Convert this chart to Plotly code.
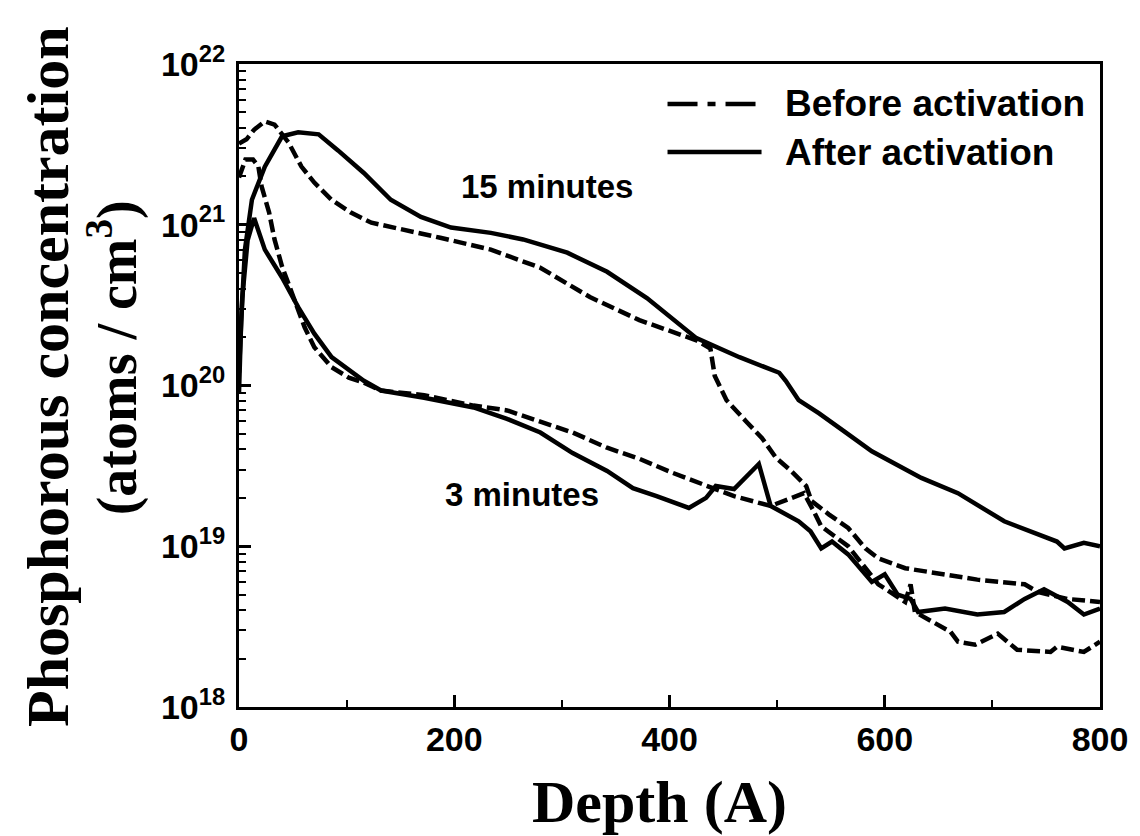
import plotly.graph_objects as go

# ---------------- data (depth in Angstrom, concentration in atoms/cm^3) ----------------
depth_after_15 = [0, 2, 5.5, 12, 24, 40, 55, 74, 92, 116, 141, 169, 197, 234, 264, 305, 342, 379,
                  425, 465, 502, 508, 520, 539, 562, 588, 634, 668, 711, 760, 767, 785, 800]
conc_after_15 = [9.0e19, 2.5e20, 7.0e20, 1.43e21, 2.3e21, 3.55e21, 3.76e21, 3.65e21, 2.9e21, 2.1e21,
                 1.43e21, 1.12e21, 9.6e20, 8.9e20, 8.1e20, 6.7e20, 5.1e20, 3.5e20,
                 1.97e20, 1.5e20, 1.2e20, 1.07e20, 8.1e19, 6.7e19, 5.2e19, 3.9e19, 2.66e19, 2.14e19,
                 1.43e19, 1.07e19, 9.7e18, 1.05e19, 1.0e19]

depth_before_15 = [0, 7, 14, 24, 33, 46, 58, 70, 86, 104, 123, 151, 187, 234, 280, 326, 372, 425,
                   438, 442, 453, 471, 486, 499, 513, 527, 532, 548, 566, 582, 594, 619, 652, 686,
                   730, 742, 770, 800]
conc_before_15 = [3.2e21, 3.4e21, 3.9e21, 4.4e21, 4.2e21, 3.25e21, 2.3e21, 1.83e21, 1.43e21, 1.19e21,
                  1.03e21, 9.4e20, 8.3e20, 7.0e20, 5.4e20, 3.55e20, 2.55e20, 1.91e20,
                  1.7e20, 1.15e20, 8.1e19, 6.0e19, 4.7e19, 3.55e19, 2.94e19, 2.37e19, 1.91e19, 1.58e19,
                  1.3e19, 9.7e18, 8.4e18, 7.3e18, 6.7e18, 6.2e18,
                  5.8e18, 5.2e18, 4.7e18, 4.5e18]

depth_after_3 = [0, 3, 8, 14, 24, 40, 55, 70, 86, 102, 116, 132, 172, 218, 249, 280, 310, 342, 366,
                 388, 418, 434, 443, 460, 483, 494, 506, 520, 531, 541, 551, 566, 588, 600, 612,
                 624, 631, 656, 686, 711, 730, 748, 770, 785, 800]
conc_after_3 = [1.2e20, 3.5e20, 8.0e20, 1.1e21, 7.0e20, 4.7e20, 3.07e20, 2.1e20, 1.5e20, 1.24e20,
                1.07e20, 9.3e19, 8.4e19, 7.3e19, 6.2e19, 5.1e19, 3.8e19, 2.94e19, 2.3e19,
                2.05e19, 1.73e19, 2.0e19, 2.37e19, 2.27e19, 3.25e19, 1.78e19, 1.6e19, 1.43e19, 1.24e19,
                9.7e18, 1.07e19, 8.9e18, 6.0e18, 6.7e18, 5.0e18,
                4.7e18, 3.9e18, 4.1e18, 3.76e18, 3.9e18, 4.7e18, 5.4e18, 4.5e18, 3.76e18, 4.1e18]

depth_before_3 = [0, 6, 13, 18, 21, 28, 33, 40, 61, 70, 86, 102, 116, 132, 172, 218, 249, 280, 310,
                  342, 372, 403, 434, 460, 494, 511, 525, 534, 541, 566, 594, 619, 624, 628, 661,
                  668, 684, 705, 723, 754, 760, 785, 800]
conc_before_3 = [1.97e21, 2.55e21, 2.55e21, 2.3e21, 1.73e21, 1.19e21, 8.1e20, 5.5e20, 2.3e20, 1.73e20,
                 1.3e20, 1.12e20, 1.04e20, 9.3e19, 8.7e19, 7.5e19, 7.0e19, 6.0e19, 5.1e19,
                 4.1e19, 3.5e19, 2.86e19, 2.37e19, 2.05e19, 1.78e19, 1.97e19, 2.14e19, 1.65e19, 1.33e19,
                 1.0e19, 5.8e18, 4.5e18, 5.8e18, 3.9e18, 2.94e18,
                 2.55e18, 2.44e18, 2.86e18, 2.27e18, 2.2e18, 2.37e18, 2.2e18, 2.55e18]

x_tick_vals = [0, 200, 400, 600, 800]
x_tick_text = ["0", "200", "400", "600", "800"]
y_tick_vals = [1e18, 1e19, 1e20, 1e21, 1e22]
y_tick_text = ["10<sup>18</sup>", "10<sup>19</sup>", "10<sup>20</sup>", "10<sup>21</sup>", "10<sup>22</sup>"]

legend_labels = ["Before activation", "After activation"]
curve_labels = ["15 minutes", "3 minutes"]

# ---------------- figure ----------------
SANS = "Liberation Sans, Arial, sans-serif"
SERIF = "Liberation Serif, Times New Roman, serif"
LW = 4.5
DASH = "13px,5px"

fig = go.Figure()
fig.add_trace(go.Scatter(x=depth_before_15, y=conc_before_15, mode="lines",
                         line=dict(color="black", width=LW, dash=DASH), showlegend=False))
fig.add_trace(go.Scatter(x=depth_before_3, y=conc_before_3, mode="lines",
                         line=dict(color="black", width=LW, dash=DASH), showlegend=False))
fig.add_trace(go.Scatter(x=depth_after_15, y=conc_after_15, mode="lines",
                         line=dict(color="black", width=LW), showlegend=False))
fig.add_trace(go.Scatter(x=depth_after_3, y=conc_after_3, mode="lines",
                         line=dict(color="black", width=LW), showlegend=False))

# page body has a small margin, so the figure is shrunk and shifted accordingly
fig.update_layout(
    width=1132, height=828,
    margin=dict(l=231, r=31, t=56, b=129),
    plot_bgcolor="white", paper_bgcolor="white",
    showlegend=False,
)

fig.update_xaxes(
    range=[0, 800], showgrid=False, zeroline=False,
    showline=True, linecolor="black", linewidth=3, mirror=True,
    ticks="inside", ticklen=12, tickwidth=2.5, tickcolor="black",
    tickvals=x_tick_vals, ticktext=x_tick_text,
    tickfont=dict(family=SANS, size=34, color="black", weight="bold"),
    ticklabelstandoff=0,
    minor=dict(ticks="inside", ticklen=7, tickwidth=2, tickcolor="black", dtick=100),
)
fig.update_yaxes(
    type="log", range=[18, 22], showgrid=False, zeroline=False,
    showline=True, linecolor="black", linewidth=3, mirror=True,
    ticks="inside", ticklen=12, tickwidth=2.5, tickcolor="black",
    tickvals=y_tick_vals, ticktext=y_tick_text,
    tickfont=dict(family=SANS, size=34, color="black", weight="bold"),
    ticklabelstandoff=4,
    minor=dict(ticks="inside", ticklen=7, tickwidth=2, tickcolor="black", dtick="D1"),
)

# curve labels
fig.add_annotation(x=286, y=21.24, xref="x", yref="y", text="<b>" + curve_labels[0] + "</b>",
                   xanchor="center", yanchor="middle",
                   showarrow=False, font=dict(family=SANS, size=33, color="black"))
fig.add_annotation(x=263, y=19.325, xref="x", yref="y", text="<b>" + curve_labels[1] + "</b>",
                   xanchor="center", yanchor="middle",
                   showarrow=False, font=dict(family=SANS, size=33, color="black"))


# legend (manual) -- reference screen pixels converted to paper fractions
def px_x(p):
    return (p - 237) / 870.0


def px_y(p):
    return (705 - p) / 643.0


fig.add_shape(type="line", xref="paper", yref="paper",
              x0=px_x(670), x1=px_x(765), y0=px_y(102), y1=px_y(102),
              line=dict(color="black", width=LW, dash="30px,10px,8px,10px"))
fig.add_shape(type="line", xref="paper", yref="paper",
              x0=px_x(670), x1=px_x(765), y0=px_y(150), y1=px_y(150),
              line=dict(color="black", width=LW))
fig.add_annotation(x=px_x(787), y=px_y(102), xref="paper", yref="paper", xanchor="left",
                   yanchor="middle", text="<b>" + legend_labels[0] + "</b>", showarrow=False,
                   font=dict(family=SANS, size=37, color="black"))
fig.add_annotation(x=px_x(787), y=px_y(150), xref="paper", yref="paper", xanchor="left",
                   yanchor="middle", text="<b>" + legend_labels[1] + "</b>", showarrow=False,
                   font=dict(family=SANS, size=37, color="black"))

# axis titles
fig.add_annotation(x=px_x(662), y=px_y(800), xref="paper", yref="paper",
                   xanchor="center", yanchor="middle",
                   text="<b>Depth (A)</b>", showarrow=False,
                   font=dict(family=SERIF, size=60, color="black"))
fig.add_annotation(x=px_x(44), y=px_y(374), xref="paper", yref="paper", textangle=-90,
                   xanchor="center", yanchor="middle",
                   text="<b>Phosphorous concentration</b>", showarrow=False,
                   font=dict(family=SERIF, size=60, color="black"))
fig.add_annotation(x=px_x(110), y=px_y(356), xref="paper", yref="paper", textangle=-90,
                   xanchor="center", yanchor="middle",
                   text="<b>(atoms / cm<sup>3</sup>)</b>", showarrow=False,
                   font=dict(family=SERIF, size=56, color="black"))

fig.write_html("out.html")
